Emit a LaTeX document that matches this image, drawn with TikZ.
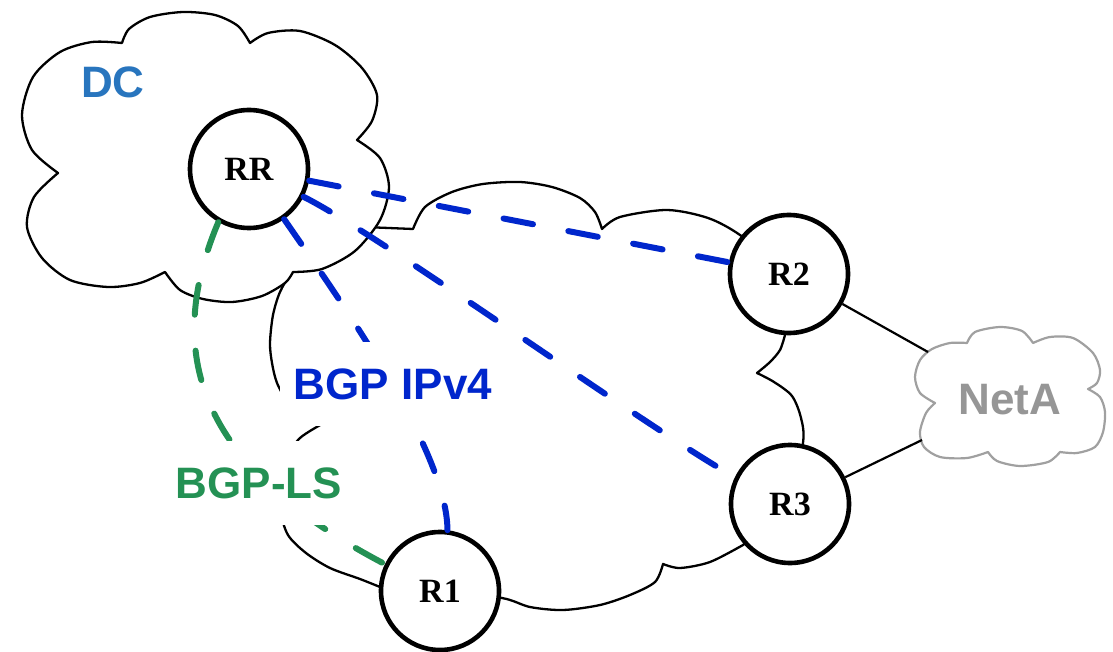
\documentclass[tikz,border=0pt]{standalone}
\usepackage{fontspec}
\newfontfamily\lsans{Liberation Sans}
\newfontfamily\lserif{Liberation Serif}
\definecolor{bgpblue}{RGB}{0,38,204}
\definecolor{bgpgreen}{RGB}{36,145,84}
\definecolor{dcblue}{RGB}{40,117,190}
\definecolor{netgray}{RGB}{150,150,150}
\definecolor{netline}{RGB}{160,160,160}
\tikzset{
  cloudline/.style={draw=black, line width=2.3pt, fill=white, line join=round},
  netcloud/.style={draw=netline, line width=2.2pt, fill=white, line join=round},
  router/.style={circle, draw=black, line width=4.6pt, fill=white, minimum size=118pt, inner sep=0pt, font=\lserif\bfseries\fontsize{34}{40}\selectfont},
  bgpdash/.style={line width=6pt, line cap=round, dash pattern=on 30pt off 36pt},
  bigtext/.style={font=\lsans\bfseries\fontsize{44}{50}\selectfont, text height=31.5pt, text depth=0pt, inner sep=0pt},
  labelbox/.style={bigtext, fill=white, inner xsep=14pt, inner ysep=26pt},
  plainlink/.style={draw=black, line width=2.2pt}
}
\begin{document}
\begin{tikzpicture}[x=1pt, y=-1pt]
\useasboundingbox (0,0) rectangle (1113,652);
% big cloud
\path[cloudline] (340,226) -- (413,229)
  -- plot[smooth] coordinates {(413,229) (425,207) (452,192) (483,184) (520,182) (552,187) (580,198) (595,212) (602,229)}
  -- plot[smooth] coordinates {(602,229) (620,217) (667,210) (708,218) (740,235) (775,265) (785,335)}
  -- plot[smooth] coordinates {(785,335) (780,350) (770,362) (757,373)}
  -- plot[smooth] coordinates {(757,373) (774,382) (792,396) (801,418) (803,443) (790,504) (743,545)}
  -- plot[smooth] coordinates {(743,545) (710,562) (680,568) (663,564)}
  -- plot[smooth] coordinates {(663,564) (655,582) (630,595) (600,605) (563,610) (530,607) (502,598) (440,591) (380,587)}
  -- plot[smooth] coordinates {(380,587) (360,579) (330,568) (306,553) (288,535) (280,510) (279,485) (286,458) (300,438) (322,424)}
  -- plot[smooth] coordinates {(322,424) (305,416) (288,402) (277,383) (272,363) (270,343) (273,315) (280,292) (292,272) (315,244) (340,226)}
  -- cycle;
% DC cloud
\path[cloudline]
  plot[smooth] coordinates {(122,43) (129,29) (150,17) (183,12) (215,15) (238,26) (250,43)}
  -- plot[smooth] coordinates {(250,43) (268,33) (300,31) (335,45) (362,68) (377,95) (372,121) (357,140)}
  -- plot[smooth] coordinates {(357,140) (380,158) (389,187) (380,220) (355,251) (322,269) (293,272)}
  -- plot[smooth] coordinates {(293,272) (285,283) (262,296) (232,302) (203,299) (180,290) (165,272)}
  -- plot[smooth] coordinates {(165,272) (140,283) (108,287) (70,280) (42,258) (27,227) (34,197) (58,173)}
  -- plot[smooth] coordinates {(58,173) (32,150) (22,115) (33,77) (60,52) (92,42) (122,43)}
  -- cycle;
% NetA cloud
\path[netcloud]
  plot[smooth] coordinates {(935,403) (920,393) (915,377) (920,360) (932,349) (950,343) (967,343)}
  -- plot[smooth] coordinates {(967,343) (975,332) (1000,327) (1022,331) (1033,343)}
  -- plot[smooth] coordinates {(1033,343) (1050,337) (1073,338) (1093,353) (1100,370) (1097,383) (1088,389)}
  -- plot[smooth] coordinates {(1088,389) (1100,397) (1105,412) (1103,432) (1095,447) (1077,453) (1060,452)}
  -- plot[smooth] coordinates {(1060,452) (1048,462) (1020,466) (997,461) (988,452)}
  -- plot[smooth] coordinates {(988,452) (967,458) (940,457) (924,447) (920,432) (926,413) (935,403)}
  -- cycle;
\coordinate (na1) at (928,352);
\coordinate (na2) at (922,440);
% routers
\node[router] (RR) at (249,169) {RR};
\node[router] (R2) at (789,274) {R2};
\node[router] (R3) at (790,504) {R3};
\node[router] (R1) at (440,591) {R1};
% links to NetA
\draw[plainlink] (R2) -- (na1);
\draw[plainlink] (R3) -- (na2);
% BGP sessions
\draw[bgpdash, draw=bgpblue] (RR) -- (R2);
\draw[bgpdash, draw=bgpblue] (RR.-27) .. controls (380,235) and (650,430) .. (R3.154);
\draw[bgpdash, draw=bgpblue] (RR.-55) .. controls (340,300) and (447,450) .. (R1.83);
\draw[bgpdash, draw=bgpgreen] (RR.240) .. controls (160,360) and (205,470) .. (R1.154);
% labels
\node[bigtext, text=dcblue] (dc) at (113,82) {DC};
\node[bigtext, text=netgray] (neta) at (1010,399) {NetA};
\node[labelbox, text=bgpblue] (ipv4) at (393,384) {BGP IPv4};
\node[labelbox, text=bgpgreen] (ls) at (259,483) {BGP-LS};
\end{tikzpicture}
\end{document}
